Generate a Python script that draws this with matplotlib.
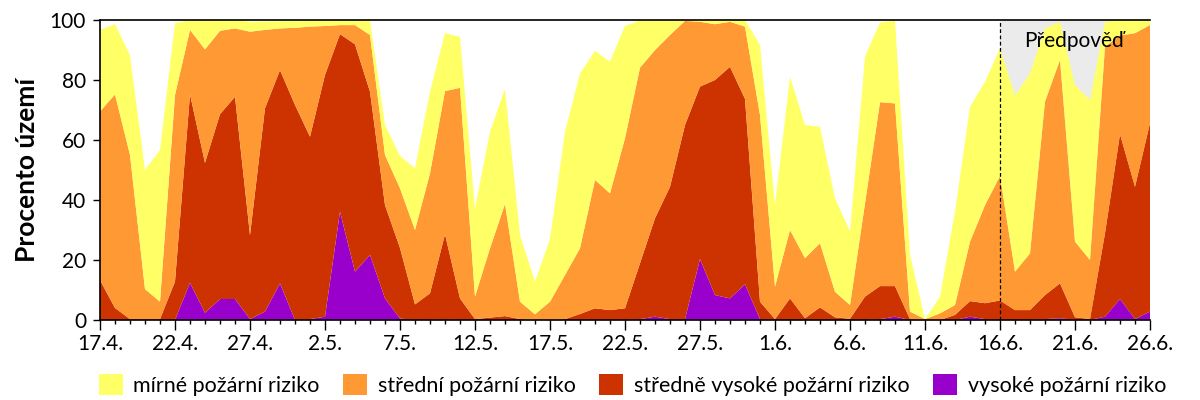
import numpy as np
import matplotlib
matplotlib.use("Agg")
import matplotlib.pyplot as plt
from matplotlib.patches import Patch
from matplotlib.ticker import MultipleLocator

plt.rcParams['font.family'] = ['Lato', 'DejaVu Sans']

tick_labels = ["17.4.", "22.4.", "27.4.", "2.5.", "7.5.", "12.5.", "17.5.", "22.5.",
               "27.5.", "1.6.", "6.6.", "11.6.", "16.6.", "21.6.", "26.6."]
series_names = ["mírné požární riziko", "střední požární riziko",
                "středně vysoké požární riziko", "vysoké požární riziko"]
forecast_start = 60  # index of 16.6.

vysoke = [0, 0, 0, 0, 0, 0, 12.4, 2.4, 7, 7, 0.3, 2.8, 12.2, 0, 0.3, 1.1, 36.1, 16.1, 21.7, 7.2,
          0.5, 0, 0, 0.3, 0, 0, 0, 0, 0, 0, 0, 0, 0, 0, 0, 0, 0.3, 1.1, 0.3, 0.3,
          20.3, 8.3, 7.2, 11.9, 0.3, 0, 0, 0, 0, 0, 0, 0, 0.3, 1.1, 0, 0, 0, 0, 1.1, 0.3,
          0, 0, 0, 0.3, 0.6, 0, 0, 1.1, 7, 0.3, 2.8]
stredne_vysoke = [13.3, 4, 0.3, 0.3, 0.3, 12.8, 62.8, 50, 61.6, 67.4, 28, 67.8, 71.1, 71.7, 60.8, 80.6, 59.2, 75.8, 54.4, 31.1,
                  23.5, 5.2, 8.9, 28.3, 7.2, 0.3, 0.8, 1.3, 0.3, 0, 0, 0.3, 2, 3.9, 3.3, 3.9, 18.6, 32.8, 44.1, 64.7,
                  57.5, 71.7, 77.2, 61.8, 5.8, 0.3, 7.2, 0.6, 4.2, 0.9, 0.4, 7.8, 11, 10.2, 0.3, 0, 0, 1.7, 5.2, 5.3,
                  6.5, 3.3, 3.3, 8, 11.6, 0.9, 0.3, 27.8, 54.9, 44.1, 62.8]
stredni = [56.2, 71.2, 54.7, 10, 5.8, 62.2, 21.5, 37.8, 27.8, 22.8, 67.8, 26.1, 13.9, 25.7, 36.7, 16.3, 3, 6.4, 18.9, 16.7,
           19.9, 24.8, 40, 47.7, 70.2, 7.5, 23.1, 37.4, 5.8, 1.9, 6.1, 14.7, 21.9, 42.8, 38.9, 56.7, 65.2, 56.1, 50.6, 34.7,
           21.6, 18.6, 15, 24.1, 62.2, 10.8, 22.8, 20, 21.4, 8.5, 4.6, 31.1, 61.3, 60.9, 2.5, 0.3, 2.2, 3.3, 19.8, 32.7,
           41.5, 12.8, 18.9, 64.5, 74.5, 25.2, 19.7, 62.2, 32.9, 51.2, 32.7]
mirne = [27.2, 23.4, 33.3, 39.7, 50.6, 23.9, 3.3, 9.8, 3.6, 2.8, 3.3, 2.8, 2.4, 2.3, 2.0, 1.9, 1.7, 1.7, 5, 10,
         10.8, 20.6, 27.2, 19.3, 17, 29.4, 38.9, 38.3, 22.2, 10.9, 20.9, 47.8, 58.3, 43, 43.9, 37.5, 15.7, 10, 5, 0.3,
         0.6, 1.4, 0.6, 2.2, 23.4, 27.2, 51.1, 44.4, 38.8, 31.2, 24.5, 48.9, 26.6, 27.6, 18.9, 0, 5.6, 31.1, 45, 41.1,
         42.6, 58.7, 60, 24.4, 12.7, 52.2, 53.3, 8.3, 5.2, 4.4, 1.7]

colors = ["#FFFF66", "#FF9933", "#CC3300", "#9900CC"]

days = np.arange(len(mirne))

fig = plt.figure(figsize=(12, 4), dpi=100)
ax = fig.add_axes([100 / 1200, 80 / 400, 1050 / 1200, 300 / 400])

ax.axvspan(forecast_start, days[-1], color="#EBEBEB", zorder=0, lw=0)
ax.stackplot(days, vysoke, stredne_vysoke, stredni, mirne,
             colors=[colors[3], colors[2], colors[1], colors[0]], lw=0, zorder=1)
ax.axvline(forecast_start, color="black", ls=(0, (3, 2)), lw=0.9, zorder=3)
ax.text(forecast_start + 4.9, 93, "Předpověď", ha="center", va="center", fontsize=15, zorder=4)

ax.set_xlim(0, days[-1])
ax.set_ylim(0, 100)
ax.set_xticks(np.arange(0, len(days), 5))
ax.set_xticklabels(tick_labels)
ax.xaxis.set_minor_locator(MultipleLocator(1))
ax.set_yticks(np.arange(0, 101, 20))
ax.tick_params(axis="x", which="major", length=7, width=1, labelsize=15, pad=3)
ax.tick_params(axis="x", which="minor", length=3, width=1)
ax.tick_params(axis="y", which="major", length=5, width=1, labelsize=15, pad=5)
for s in ["left", "bottom", "top"]:
    ax.spines[s].set_linewidth(1.2)
ax.spines["right"].set_visible(False)
ax.set_ylabel("Procento území", fontsize=19, fontweight="bold", labelpad=8)

handles = [Patch(facecolor=c, edgecolor="none") for c in colors]
fig.legend(handles, series_names, loc="center", bbox_to_anchor=(0.527, 0.038), ncol=4,
           frameon=False, fontsize=15.5, handlelength=1.1, handleheight=1.1,
           handletextpad=0.5, columnspacing=1.1, borderpad=0)

fig.savefig("out.png", dpi=100)
